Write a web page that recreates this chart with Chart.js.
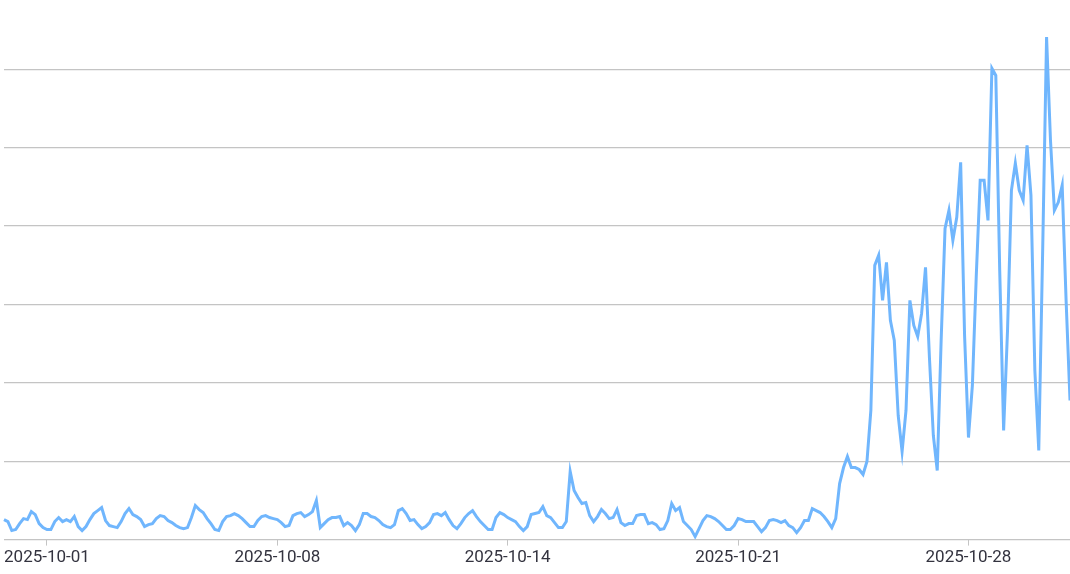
<!DOCTYPE html>
<html>
<head>
<meta charset="utf-8">
<script src="https://cdn.jsdelivr.net/npm/chart.js@4.4.1/dist/chart.umd.min.js"></script>
<style>
  html, body { margin: 0; padding: 0; background: #ffffff; }
  #wrap { width: 1070px; height: 574px; position: relative; }
</style>
</head>
<body>
<div id="wrap"><canvas id="c"></canvas></div>
<script>
// Tick labels shown on the x axis
const tickLabels = ["2025-10-01", "2025-10-08", "2025-10-14", "2025-10-21", "2025-10-28"];
const pointsBeforeFirstTick = 11;
const pointsBetweenTicks = 59;

// Series values
const values = [
  2.55,2.30,1.15,1.28,2.04,2.68,2.55,3.57,3.19,2.04,
  1.53,1.28,1.28,2.30,2.81,2.30,2.55,2.30,2.94,1.66,
  1.15,1.66,2.55,3.32,3.70,4.09,2.43,1.79,1.66,1.53,
  2.30,3.32,3.96,3.19,2.94,2.55,1.66,1.91,2.04,2.68,
  3.06,2.94,2.43,2.17,1.79,1.53,1.40,1.53,2.81,4.34,
  3.83,3.45,2.68,2.04,1.28,1.15,2.30,2.94,3.06,3.32,
  3.06,2.68,2.17,1.66,1.66,2.43,2.94,3.06,2.81,2.68,
  2.55,2.17,1.66,1.79,3.06,3.32,3.45,2.94,3.19,3.57,
  4.98,1.53,2.04,2.55,2.81,2.81,2.94,1.79,2.17,1.79,
  1.15,1.91,3.32,3.32,2.94,2.81,2.43,1.91,1.66,1.53,
  1.91,3.70,3.96,3.32,2.43,2.55,1.91,1.40,1.66,2.17,
  3.19,3.32,3.06,3.45,2.55,1.79,1.40,2.04,2.81,3.32,
  3.70,2.94,2.30,1.79,1.28,1.28,2.81,3.45,3.19,2.81,
  2.55,2.30,1.66,1.15,1.66,3.19,3.32,3.45,4.21,3.06,
  2.81,2.17,1.53,1.53,2.30,8.68,6.26,5.36,4.60,4.72,
  3.06,2.30,2.94,3.83,3.32,2.68,2.81,3.83,2.17,1.79,
  2.04,2.04,3.06,3.19,3.19,2.04,2.17,1.91,1.28,1.40,
  2.43,4.60,3.70,4.09,2.30,1.79,1.28,0.38,1.40,2.43,
  3.06,2.94,2.68,2.30,1.79,1.28,1.28,1.79,2.68,2.55,
  2.30,2.30,2.30,1.66,1.02,1.53,2.43,2.55,2.43,2.17,
  2.43,1.79,1.53,0.89,1.53,2.43,2.43,3.96,3.70,3.45,
  2.94,2.30,1.53,2.68,7.15,9.19,10.60,9.19,9.19,8.94,
  8.30,9.96,16.47,34.98,36.26,30.51,35.36,27.96,25.40,15.83,
  11.23,16.47,30.51,27.32,25.91,28.85,34.72,23.23,13.28,8.81,
  25.40,39.70,42.00,38.17,41.11,48.13,26.04,13.02,19.66,33.70,
  45.83,45.83,40.72,60.10,59.20,34.34,13.91,26.68,44.55,48.00,
  44.55,43.28,50.30,43.91,21.57,11.36,36.89,64.09,50.94,42.00,
  43.02,45.19,30.51,17.74
];

// Category labels: a date label at each labelled point, blank elsewhere
const categories = values.map((v, i) => {
  const k = i - pointsBeforeFirstTick;
  if (k >= 0 && k % pointsBetweenTicks === 0) {
    return tickLabels[k / pointsBetweenTicks] || "";
  }
  return "";
});

const yMin = 0, yMax = 65, yStep = 10;

new Chart(document.getElementById('c'), {
  type: 'line',
  data: {
    labels: categories,
    datasets: [{
      data: values,
      borderColor: '#70b6fd',
      borderWidth: 3,
      pointRadius: 0,
      pointHoverRadius: 0,
      tension: 0,
      fill: false
    }]
  },
  options: {
    responsive: true,
    maintainAspectRatio: false,
    animation: false,
    layout: { padding: { top: 30, left: 4, right: 0, bottom: 4 } },
    plugins: { legend: { display: false }, tooltip: { enabled: false } },
    scales: {
      x: {
        type: 'category',
        offset: false,
        border: { display: true, color: '#c4c4c4', width: 1 },
        grid: {
          display: true,
          drawOnChartArea: false,
          drawTicks: true,
          tickLength: 6,
          color: '#c4c4c4'
        },
        ticks: {
          autoSkip: false,
          maxRotation: 0,
          minRotation: 0,
          padding: 2,
          color: '#33333f',
          font: { family: 'Roboto', size: 17 },
          callback: function (val, idx) {
            const l = this.getLabelForValue(val);
            return l ? l : null;
          }
        }
      },
      y: {
        min: yMin,
        max: yMax,
        border: { display: false },
        grid: {
          drawTicks: false,
          color: (ctx) => (ctx.tick && ctx.tick.value === yMax) ? 'rgba(0,0,0,0)' : '#c4c4c4',
          lineWidth: 1.2
        },
        ticks: { display: false, stepSize: yStep }
      }
    }
  }
});
</script>
</body>
</html>
